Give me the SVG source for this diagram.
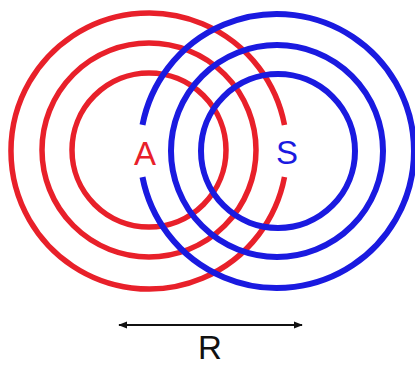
<svg xmlns="http://www.w3.org/2000/svg" width="415" height="366" viewBox="0 0 415 366">
<style>
.red{fill:none;stroke:#e8202a;stroke-width:5.5}
.blue{fill:none;stroke:#1a1ae0;stroke-width:6}
.lbl{font-family:"Liberation Sans",Arial,sans-serif;font-size:33px;text-anchor:middle}
</style>
<defs>
<marker id="ah" viewBox="0 0 10 10" refX="9" refY="5" markerWidth="4.5" markerHeight="4.5" orient="auto-start-reverse" markerUnits="strokeWidth">
<path d="M0,1 L10,5 L0,9 Z" fill="#111"/>
</marker>
</defs>
<rect width="415" height="366" fill="#fff"/>
<g id="A">
<path class="red" d="M284.5 177 A138 138 0 1 1 284.5 125"/>
<circle class="red" cx="149" cy="150" r="107"/>
<circle class="red" cx="149" cy="150" r="77"/>
<text class="lbl" x="145" y="165" fill="#e8202a">A</text>
</g>
<g id="S">
<path class="blue" d="M142.5 177.1 A137 137 0 1 0 142.5 124.9"/>
<circle class="blue" cx="277" cy="151" r="106"/>
<circle class="blue" cx="278" cy="151" r="77"/>
<text class="lbl" x="287" y="164" fill="#1a1ae0">S</text>
</g>
<g id="connectors">
<line x1="119" y1="325" x2="302" y2="325" stroke="#111" stroke-width="2" marker-start="url(#ah)" marker-end="url(#ah)"/>
</g>
<text class="lbl" x="210" y="359" fill="#111">R</text>
</svg>
